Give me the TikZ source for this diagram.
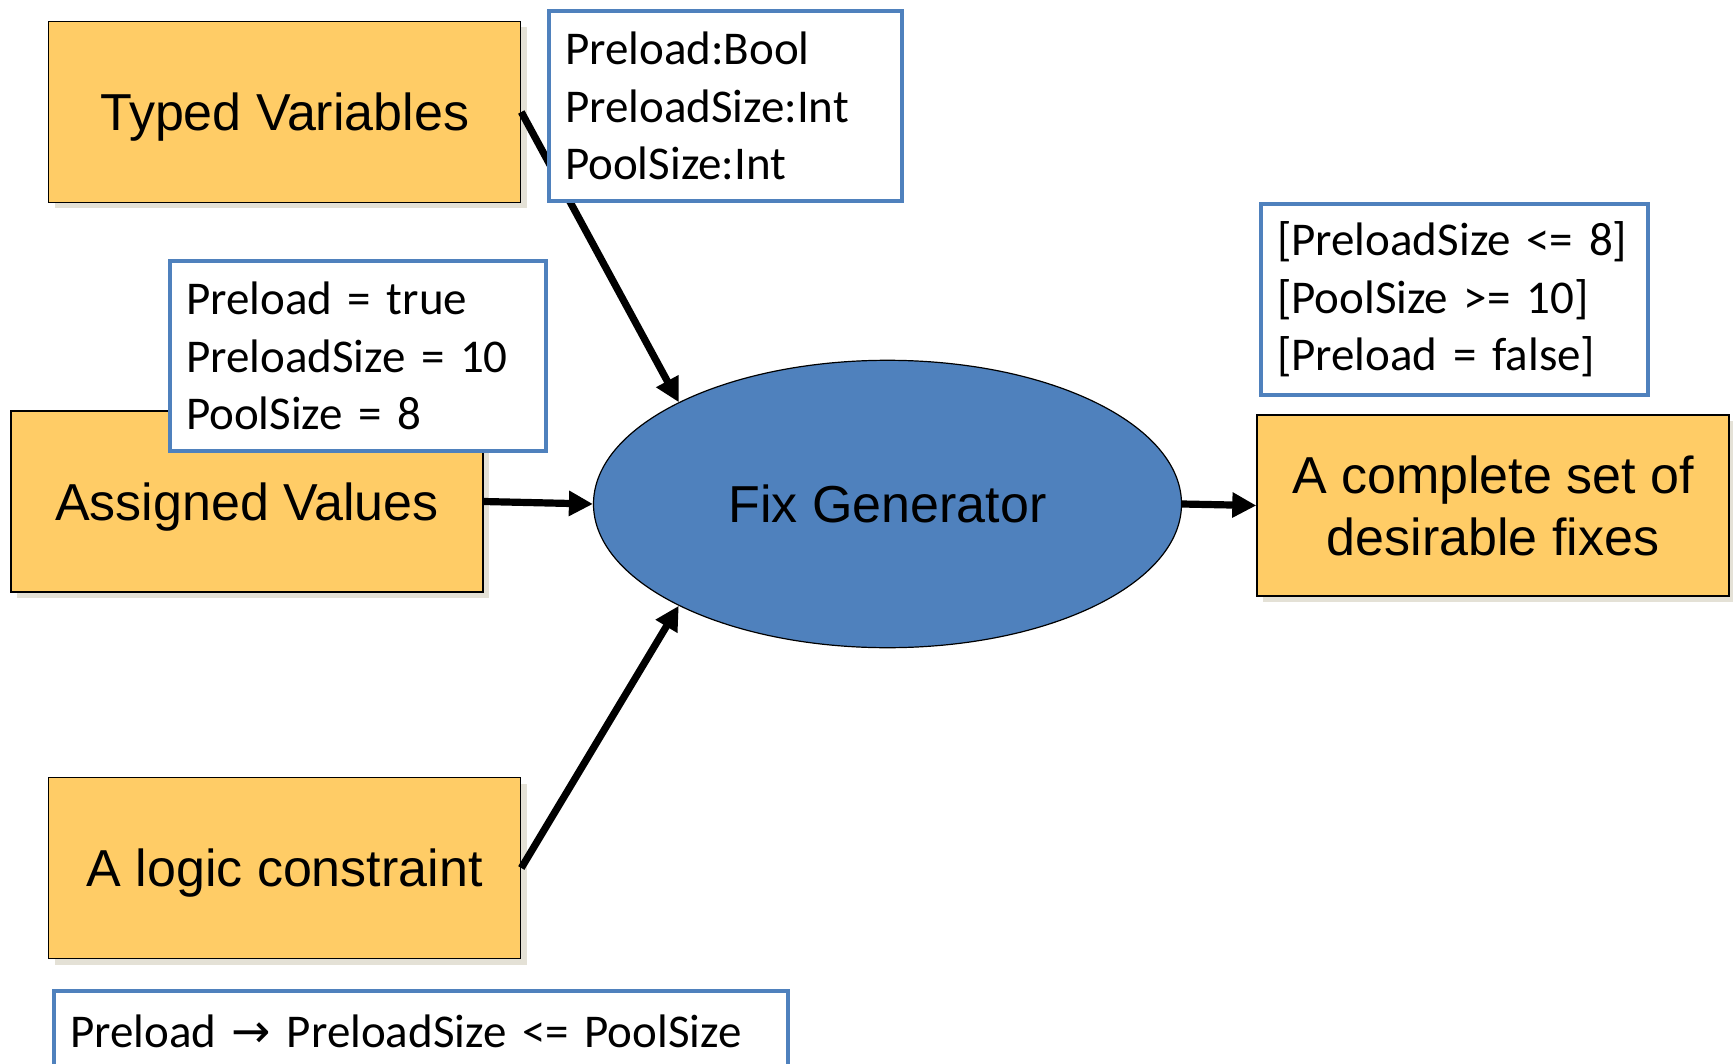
\documentclass[tikz,border=0pt]{standalone}
\usepackage{fontspec}
\setmainfont{Liberation Sans}
\newfontfamily\notefont{Carlito}
\newfontfamily\arrowfont{DejaVu Sans}
\usetikzlibrary{arrows.meta, shapes.geometric, shadows}
\definecolor{corange}{HTML}{FFCC66}
\definecolor{cblue}{HTML}{4F81BD}
\definecolor{cshadow}{HTML}{E4E1D6}
\tikzset{
  fact/.style={draw=black, line width=0.7pt, fill=corange, minimum width=236pt, minimum height=90.5pt, align=center, inner sep=0pt, text depth=0pt, font=\fontsize{26}{31}\selectfont, drop shadow={shadow xshift=3pt, shadow yshift=-3pt, fill=cshadow, opacity=1}},
  gen/.style={ellipse, draw=black, line width=0.6pt, fill=cblue, minimum width=294pt, minimum height=143.7pt, inner sep=0pt, font=\fontsize{26}{31}\selectfont},
  note/.style={draw=cblue, line width=2pt, fill=white, align=left, inner xsep=8pt, inner ysep=0pt, minimum height=95pt, text width=#1, font=\notefont\fontsize{23.5}{28.7}\selectfont},
  arrow/.style={-{Triangle[length=12pt, width=12pt]}, draw=black, line width=3.6pt},
}

\begin{document}
\begin{tikzpicture}[x=0.5pt, y=-0.5pt]
  \useasboundingbox (0,0) rectangle (1733,1064);
  % inputs, generator and output
  \node[fact] (typed) at (284.6,112) {Typed Variables};
  \node[fact] (assigned) at (247,501.5) {Assigned Values};
  \node[fact] (logic) at (284.6,868) {A logic constraint};
  \node[fact] (fixes) at (1493,505.5) {A complete set of\\desirable fixes};
  \node[gen] (fix) at (887.5,504) {Fix Generator};
  \draw[arrow] (typed.east) -- (fix.154);
  \draw[arrow] (assigned.east) -- (fix.west);
  \draw[arrow] (logic.east) -- (fix.206);
  \draw[arrow] (fix.east) -- (fixes.west);
  % example contents
  \node[note=160.5pt] (typesnote) at (725.5,106) {Preload:Bool\\PreloadSize:Int\\PoolSize:Int};
  \node[note=172pt] (valuesnote) at (358,356) {Preload = true\\PreloadSize = 10\\PoolSize = 8};
  \node[note=177.5pt] (fixesnote) at (1454.5,299.5) {{[}PreloadSize <= 8{]}\\{[}PoolSize >= 10{]}\\{[}Preload = false{]}};
  \node[note=351pt, minimum height=40pt] (rulenote) at (421,1031) {Preload {\arrowfont →} PreloadSize <= PoolSize};
\end{tikzpicture}
\end{document}
